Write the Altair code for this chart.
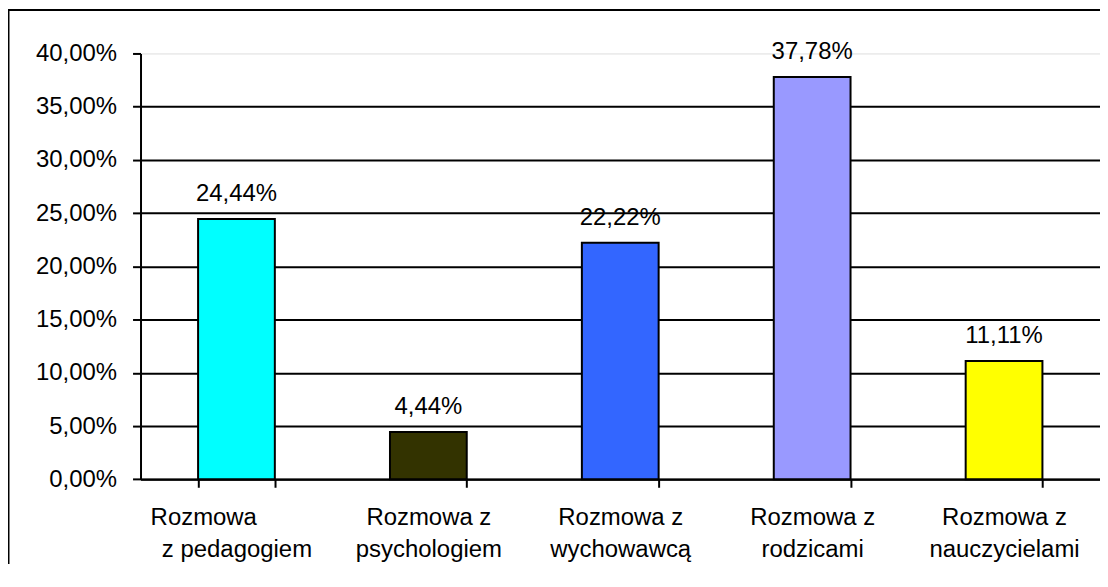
import altair as alt
import pandas as pd

# Data
NB = "\u00a0" * 10 + "\u2060"
categories = [
    "Rozmowa" + NB + "|z pedagogiem",
    "Rozmowa z|psychologiem",
    "Rozmowa z|wychowawcą",
    "Rozmowa z|rodzicami",
    "Rozmowa z|nauczycielami",
]
values = [0.2444, 0.0444, 0.2222, 0.3778, 0.1111]
colors = ["#00FFFF", "#333300", "#3366FF", "#9999FF", "#FFFF00"]
y_ticks = [0.0, 0.05, 0.10, 0.15, 0.20, 0.25, 0.30, 0.35, 0.40]

df = pd.DataFrame({"cat": categories, "val": values})

FONT = "Liberation Sans"
FS = 24

base = alt.Chart(df).transform_calculate(
    lbl="replace(format(datum.val, '.2%'), '.', ',')"
)

x_enc = alt.X(
    "cat:N",
    sort=categories,
    scale=alt.Scale(paddingInner=0.6, paddingOuter=0.3),
    axis=alt.Axis(
        title=None,
        labelAngle=0,
        labelExpr="split(datum.label, '|')",
        labelLineHeight=32,
        labelPadding=18,
        labelFontSize=FS,
        labelFont=FONT,
        labelColor="black",
        tickBand="extent",
        tickSize=8,
        tickWidth=2,
        tickColor="black",
        domainColor="black",
        domainWidth=2,
        grid=False,
    ),
)

y_enc = alt.Y(
    "val:Q",
    scale=alt.Scale(domain=[0, 0.4], nice=False),
    axis=alt.Axis(
        title=None,
        values=y_ticks,
        labelExpr="replace(format(datum.value, '.2%'), '.', ',')",
        labelFontSize=FS,
        labelFont=FONT,
        labelColor="black",
        labelPadding=16,
        tickSize=8,
        tickWidth=2,
        tickColor="black",
        domainColor="black",
        domainWidth=2,
        grid=True,
        gridColor="black",
        gridWidth=2,
        gridOpacity=alt.condition("datum.value >= 0.39", alt.value(0), alt.value(1)),
    ),
)

bars = base.mark_bar(stroke="black", strokeWidth=2).encode(
    x=x_enc,
    y=y_enc,
    color=alt.Color("cat:N", scale=alt.Scale(domain=categories, range=colors), legend=None),
)

texts = base.mark_text(
    dy=-18, baseline="alphabetic", fontSize=FS, font=FONT, color="black"
).encode(
    x=alt.X("cat:N", sort=categories),
    y="val:Q",
    text="lbl:N",
)

frame_data = alt.Chart(pd.DataFrame({"a": [0]}))
frame_left = frame_data.mark_rule(color="black", strokeWidth=2).encode(
    x=alt.value(-132.5), y=alt.value(-44.5), y2=alt.value(600)
)
frame_top = frame_data.mark_rule(color="black", strokeWidth=2).encode(
    x=alt.value(-133.5), x2=alt.value(967), y=alt.value(-43.5)
)

chart = alt.layer(frame_left, frame_top, bars, texts).properties(
    width=963,
    height=427.4,
    padding={"left": 133, "top": 44.6, "right": 0, "bottom": 84},
    autosize=alt.AutoSizeParams(type="none"),
    background="white",
).configure_view(strokeWidth=0).configure(font=FONT)

chart.save("out.html", embed_options={"renderer": "svg", "actions": False})
